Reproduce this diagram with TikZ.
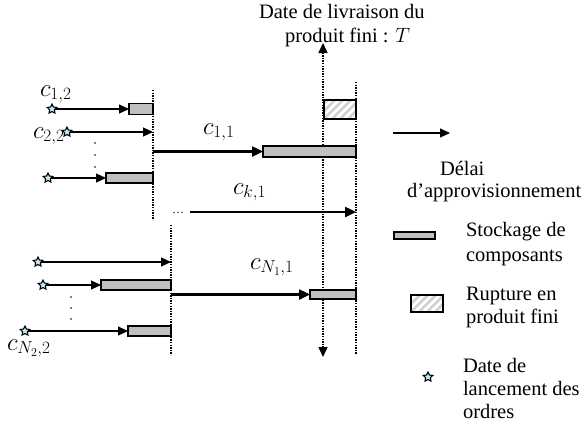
\documentclass[tikz,border=0pt]{standalone}
\usepackage{fontspec}
\setmainfont{Liberation Serif}
\usetikzlibrary{arrows.meta,shapes.geometric}

\begin{document}
\begin{tikzpicture}[x=1pt,y=-1pt,
  font=\fontsize{20.5}{24}\selectfont,
  every node/.style={inner sep=0pt, outer sep=0pt},
  launch/.style={star, star points=5, star point ratio=2.0, minimum size=10pt,
    draw=black, line width=1.1pt, fill=cyan!25},
  stockbox/.style={rectangle, draw=black, line width=1.2pt, fill=gray!50},
  rupture/.style={rectangle, draw=black, line width=1.2pt, fill=white,
    path picture={
      \foreach \s in {-40,-32,...,48}
        \draw[gray!35, line width=2.6pt]
          ([xshift=\s pt]path picture bounding box.south west) -- ++(30,-30);
    }},
  lead/.style={line width=1.1pt, -{Triangle[length=10pt,width=9pt]}},
  leadthick/.style={line width=2.4pt, -{Triangle[length=11pt,width=10pt]}},
  horizon/.style={line width=1.5pt, dash pattern=on 1.3pt off 1.3pt},
  txt/.style={anchor=base west},
  comp/.style={anchor=base west, font=\fontsize{23}{26}\selectfont},
  vdot/.style={circle, fill=black, minimum size=1.6pt},
]
\useasboundingbox (0,0) rectangle (584,426);

% delivery date of the finished product
\node[txt] (dl1) at (259,18) {Date de livraison du};
\node[txt] (dl2) at (285,42) {produit fini : $T$};
\coordinate (dtop) at (323,43);
\coordinate (dbot) at (323,357);
\draw[horizon, {Triangle[length=10pt,width=9pt]}-{Triangle[length=10pt,width=9pt]}] (dtop) -- (dbot);
\coordinate (rtop) at (356,82);
\coordinate (rbot) at (356,354);
\draw[horizon] (rtop) -- (rbot);
\node[rupture, minimum width=32pt, minimum height=19pt] (rup) at (340,109.5) {};

% first group of level-2 components
\coordinate (h1t) at (153,90);
\coordinate (h1b) at (153,220);
\draw[horizon] (h1t) -- (h1b);

\node[comp] (c12) at (40,96) {$c_{1,2}$};
\node[launch] (s1) at (52,109) {};
\node[stockbox, minimum width=24pt, minimum height=11pt] (b1) at (141,109) {};
\draw[lead] (s1) -- (b1.west);

\node[comp] (c22) at (33,138) {$c_{2,2}$};
\node[launch] (s2) at (67,132) {};
\coordinate (e2) at (153,132);
\draw[lead] (s2) -- (e2);

\node[vdot] (d11) at (95,143) {};
\node[vdot] (d12) at (95,155) {};
\node[vdot] (d13) at (95,167) {};

\node[launch] (s3) at (48,178) {};
\node[stockbox, minimum width=47pt, minimum height=10pt] (b3) at (129.5,178) {};
\draw[lead] (s3) -- (b3.west);

% level-1 component c_{1,1}
\node[comp] (c11) at (203,134) {$c_{1,1}$};
\coordinate (o1) at (153,151.5);
\node[stockbox, minimum width=93pt, minimum height=11pt] (bb1) at (309.5,151.5) {};
\draw[leadthick] (o1) -- (bb1.west);

% level-1 component c_{k,1}
\node[comp] (ck1) at (233,194) {$c_{k,1}$};
\node[txt, font=\fontsize{12}{14}\selectfont] (kdots) at (172,213) {\ldots};
\coordinate (k0) at (190,212);
\coordinate (k1) at (356,212);
\draw[leadthick] (k0) -- (k1);

% second group of level-2 components
\coordinate (h2t) at (171,225);
\coordinate (h2b) at (171,355);
\draw[horizon] (h2t) -- (h2b);

\node[launch] (t1) at (38,262) {};
\coordinate (f1) at (171,262);
\draw[lead] (t1) -- (f1);

\node[launch] (t2) at (43,285) {};
\node[stockbox, minimum width=70pt, minimum height=10pt] (g2) at (136,285) {};
\draw[lead] (t2) -- (g2.west);

\node[vdot] (d21) at (71,297) {};
\node[vdot] (d22) at (71,308) {};
\node[vdot] (d23) at (71,319) {};

\node[launch] (t3) at (25,331) {};
\node[stockbox, minimum width=43pt, minimum height=10pt] (g3) at (149.5,331) {};
\draw[lead] (t3) -- (g3.west);
\node[comp] (cn22) at (7,350) {$c_{N_2,2}$};

% level-1 component c_{N_1,1}
\node[comp] (cn11) at (250,269) {$c_{N_1,1}$};
\coordinate (o2) at (171,294.5);
\node[stockbox, minimum width=46pt, minimum height=9pt] (bb2) at (333,294.5) {};
\draw[leadthick] (o2) -- (bb2.west);

% legend
\coordinate (la0) at (393,133);
\coordinate (la1) at (450,133);
\draw[lead] (la0) -- (la1);
\node[txt] (lg1a) at (440,175) {Délai};
\node[txt] (lg1b) at (407,197) {d’approvisionnement};

\node[stockbox, minimum width=41pt, minimum height=7pt] (lgbox) at (414.5,235.5) {};
\node[txt] (lg2a) at (466,236) {Stockage de};
\node[txt] (lg2b) at (466,261) {composants};

\node[rupture, minimum width=32pt, minimum height=17pt] (lgrup) at (427,303.5) {};
\node[txt] (lg3a) at (466,300) {Rupture en};
\node[txt] (lg3b) at (466,323) {produit fini};

\node[launch] (lgstar) at (428,377) {};
\node[txt] (lg4a) at (463,372) {Date de};
\node[txt] (lg4b) at (463,395) {lancement des};
\node[txt] (lg4c) at (463,418) {ordres};
\end{tikzpicture}
\end{document}
